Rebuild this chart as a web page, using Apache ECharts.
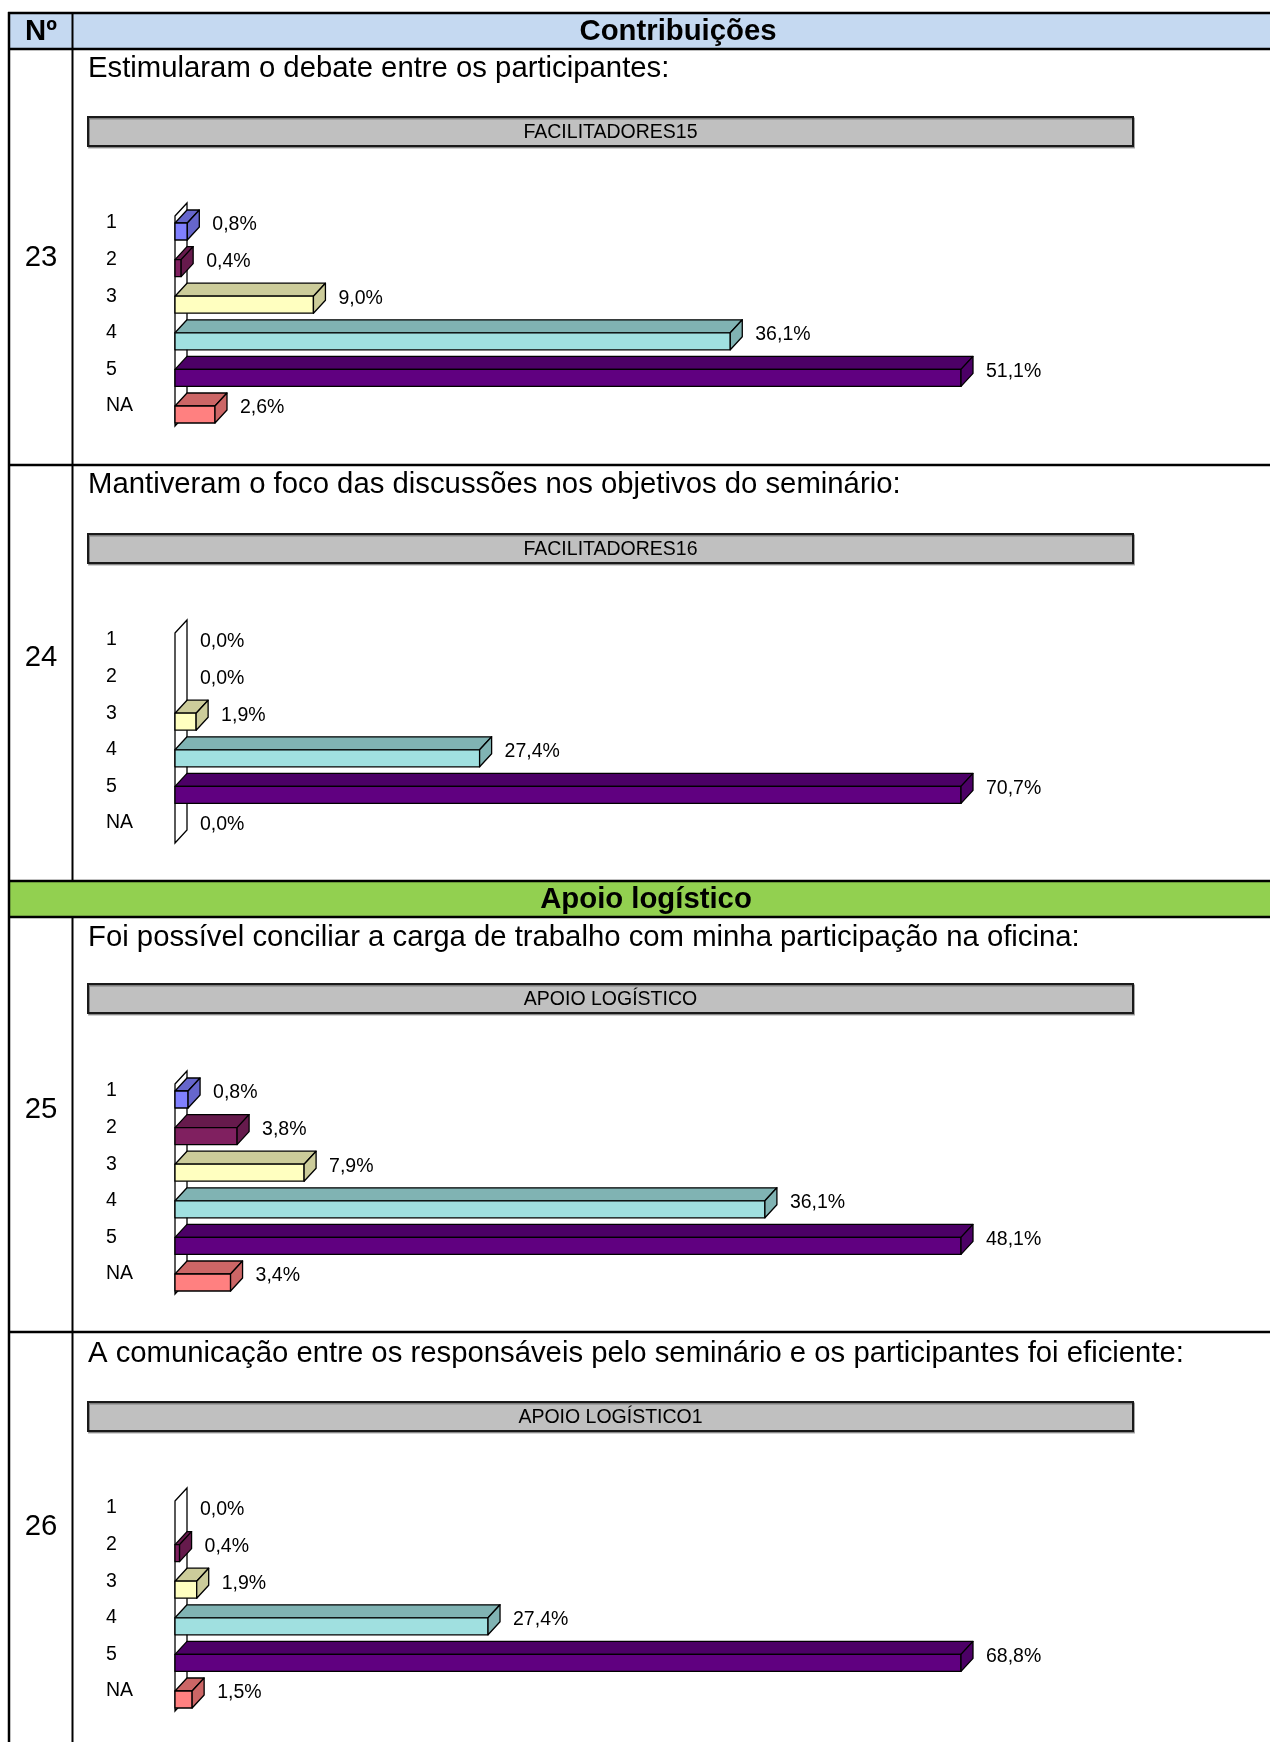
<!DOCTYPE html>
<html><head><meta charset="utf-8">
<script src="https://cdn.jsdelivr.net/npm/echarts@6/dist/echarts.min.js"></script>
<style>html,body{margin:0;padding:0;background:#fff}#c{width:1270px;height:1742px}</style>
</head><body><div id="c"></div>
<script>
// ---- data ----
const categories = ['1', '2', '3', '4', '5', 'NA'];
const q23 = [0.8, 0.4, 9.0, 36.1, 51.1, 2.6];
const q24 = [0.0, 0.0, 1.9, 27.4, 70.7, 0.0];
const q25 = [0.8, 3.8, 7.9, 36.1, 48.1, 3.4];
const q26 = [0.0, 0.4, 1.9, 27.4, 68.8, 1.5];
const rowNumbers = ['23', '24', '25', '26'];
const questions = [
  'Estimularam o debate entre os participantes:',
  'Mantiveram o foco das discussões nos objetivos do seminário:',
  'Foi possível conciliar a carga de trabalho com minha participação na oficina:',
  'A comunicação entre os responsáveis pelo seminário e os participantes foi eficiente:'
];
const chartTitles = ['FACILITADORES15', 'FACILITADORES16', 'APOIO LOGÍSTICO', 'APOIO LOGÍSTICO1'];
const headerNo = 'Nº';
const sectionHeaders = ['Contribuições', 'Apoio logístico'];

// ---- styles / layout ----
const frontColors = ['#8080ff', '#802060', '#ffffc0', '#a0e0e0', '#600080', '#ff8080'];
const sideColors  = ['#6666cc', '#661a4c', '#cccc9a', '#80b3b3', '#4c0066', '#cc6666'];
const FONT = '"Liberation Sans", Arial, sans-serif';
const BIG = 29.3, SMALL = 19.5;
const DX = 12, DY = 13, H = 17;
const allSeries = [q23, q24, q25, q26];
const L = [
  {num: 258,  q: 69,   box: 117,  grid: 204.7},
  {num: 658,  q: 485,  box: 534,  grid: 621.7},
  {num: 1110, q: 938,  box: 984,  grid: 1072.7},
  {num: 1527, q: 1354, box: 1402, grid: 1489.7}
];
const GRID_H = 219.6;

function fmt(v) { return v.toFixed(1).replace('.', ',') + '%'; }

function renderBar(params, api) {
  const v = api.value(0), c = api.value(1);
  const p0 = api.coord([0, c]), p1 = api.coord([v, c]);
  const x0 = p0[0], x1 = p1[0], y = p0[1];
  const st = {stroke: '#000', lineWidth: 1.3, lineJoin: 'round'};
  const ch = [];
  if (v > 0) {
    ch.push({type: 'polygon', shape: {points: [[x0, y], [x1, y], [x1 + DX, y - DY], [x0 + DX, y - DY]]},
      style: Object.assign({fill: sideColors[c]}, st)});
    ch.push({type: 'rect', shape: {x: x0, y: y, width: x1 - x0, height: H},
      style: Object.assign({fill: frontColors[c]}, st)});
    ch.push({type: 'polygon', shape: {points: [[x1, y], [x1 + DX, y - DY], [x1 + DX, y - DY + H], [x1, y + H]]},
      style: Object.assign({fill: sideColors[c]}, st)});
  }
  ch.push({type: 'text', style: {text: fmt(v), x: x1 + DX + 13, y: y + 2, fill: '#000',
    fontSize: SMALL, fontFamily: FONT, align: 'left', verticalAlign: 'middle'}});
  return {type: 'group', children: ch};
}

function renderWall(params, api) {
  const a = api.coord([0, 0]), b = api.coord([0, categories.length - 1]);
  const x = a[0];
  return {type: 'polygon', shape: {points: [[x, a[1] - 7], [x + DX, a[1] - 7 - DY], [x + DX, b[1] + 20 - DY], [x, b[1] + 20]]},
    style: {fill: '#fff', stroke: '#000', lineWidth: 1.3}};
}

const grids = [], xAxes = [], yAxes = [], series = [], graphics = [];

// table background & lines
graphics.push({type: 'rect', shape: {x: 9, y: 13, width: 1261, height: 36}, style: {fill: '#c5d9f1'}, z: 0});
graphics.push({type: 'rect', shape: {x: 9, y: 881, width: 1261, height: 36}, style: {fill: '#92d050'}, z: 0});
[13, 49, 465, 881, 917, 1332].forEach(y => graphics.push({type: 'line', shape: {x1: 8, y1: y, x2: 1270, y2: y},
  style: {stroke: '#000', lineWidth: 2.5}, z: 1}));
graphics.push({type: 'line', shape: {x1: 9, y1: 12, x2: 9, y2: 1742}, style: {stroke: '#000', lineWidth: 2.5}, z: 1});
graphics.push({type: 'line', shape: {x1: 72.5, y1: 13, x2: 72.5, y2: 881}, style: {stroke: '#000', lineWidth: 2}, z: 1});
graphics.push({type: 'line', shape: {x1: 72.5, y1: 917, x2: 72.5, y2: 1742}, style: {stroke: '#000', lineWidth: 2}, z: 1});
graphics.push({type: 'text', style: {text: headerNo, x: 41, y: 32, align: 'center', verticalAlign: 'middle',
  fontSize: BIG, fontWeight: 'bold', fontFamily: FONT, fill: '#000'}, z: 2});
graphics.push({type: 'text', style: {text: sectionHeaders[0], x: 678, y: 32, align: 'center', verticalAlign: 'middle',
  fontSize: BIG, fontWeight: 'bold', fontFamily: FONT, fill: '#000'}, z: 2});
graphics.push({type: 'text', style: {text: sectionHeaders[1], x: 646, y: 900, align: 'center', verticalAlign: 'middle',
  fontSize: BIG, fontWeight: 'bold', fontFamily: FONT, fill: '#000'}, z: 2});

allSeries.forEach((vals, i) => {
  const lay = L[i];
  graphics.push({type: 'text', style: {text: rowNumbers[i], x: 41, y: lay.num, align: 'center', verticalAlign: 'middle',
    fontSize: BIG, fontFamily: FONT, fill: '#000'}, z: 2});
  graphics.push({type: 'text', style: {text: questions[i], x: 88, y: lay.q, align: 'left', verticalAlign: 'middle',
    fontSize: BIG, fontFamily: FONT, fill: '#000'}, z: 2});
  graphics.push({type: 'rect', shape: {x: 88, y: lay.box, width: 1045, height: 29},
    style: {fill: '#c0c0c0', stroke: '#1a1a1a', lineWidth: 2, shadowColor: 'rgba(0,0,0,0.35)', shadowOffsetX: 1, shadowOffsetY: 1.5, shadowBlur: 0}, z: 2});
  graphics.push({type: 'text', style: {text: chartTitles[i], x: 610.5, y: lay.box + 16, align: 'center', verticalAlign: 'middle',
    fontSize: SMALL, fontFamily: FONT, fill: '#000'}, z: 3});

  grids.push({left: 175, width: 786, top: lay.grid, height: GRID_H, containLabel: false});
  xAxes.push({type: 'value', gridIndex: i, min: 0, max: 'dataMax', show: false});
  yAxes.push({type: 'category', gridIndex: i, inverse: true, data: categories,
    axisLine: {show: false}, axisTick: {show: false}, splitLine: {show: false},
    axisLabel: {align: 'left', margin: 69, fontSize: SMALL, fontFamily: FONT, color: '#000', padding: [3, 0, 0, 0]}});
  series.push({type: 'custom', name: 'wall' + i, xAxisIndex: i, yAxisIndex: i, clip: false, z: 2,
    data: [[0, 0]], encode: {x: 0, y: 1}, renderItem: renderWall, silent: true});
  series.push({type: 'custom', name: rowNumbers[i], xAxisIndex: i, yAxisIndex: i, clip: false, z: 3,
    data: vals.map((v, k) => [v, k]), encode: {x: 0, y: 1}, renderItem: renderBar});
});

const chart = echarts.init(document.getElementById('c'), null, {renderer: 'canvas'});
chart.setOption({
  animation: false,
  backgroundColor: '#fff',
  grid: grids, xAxis: xAxes, yAxis: yAxes, series: series,
  graphic: {elements: graphics}
});
</script></body></html>
